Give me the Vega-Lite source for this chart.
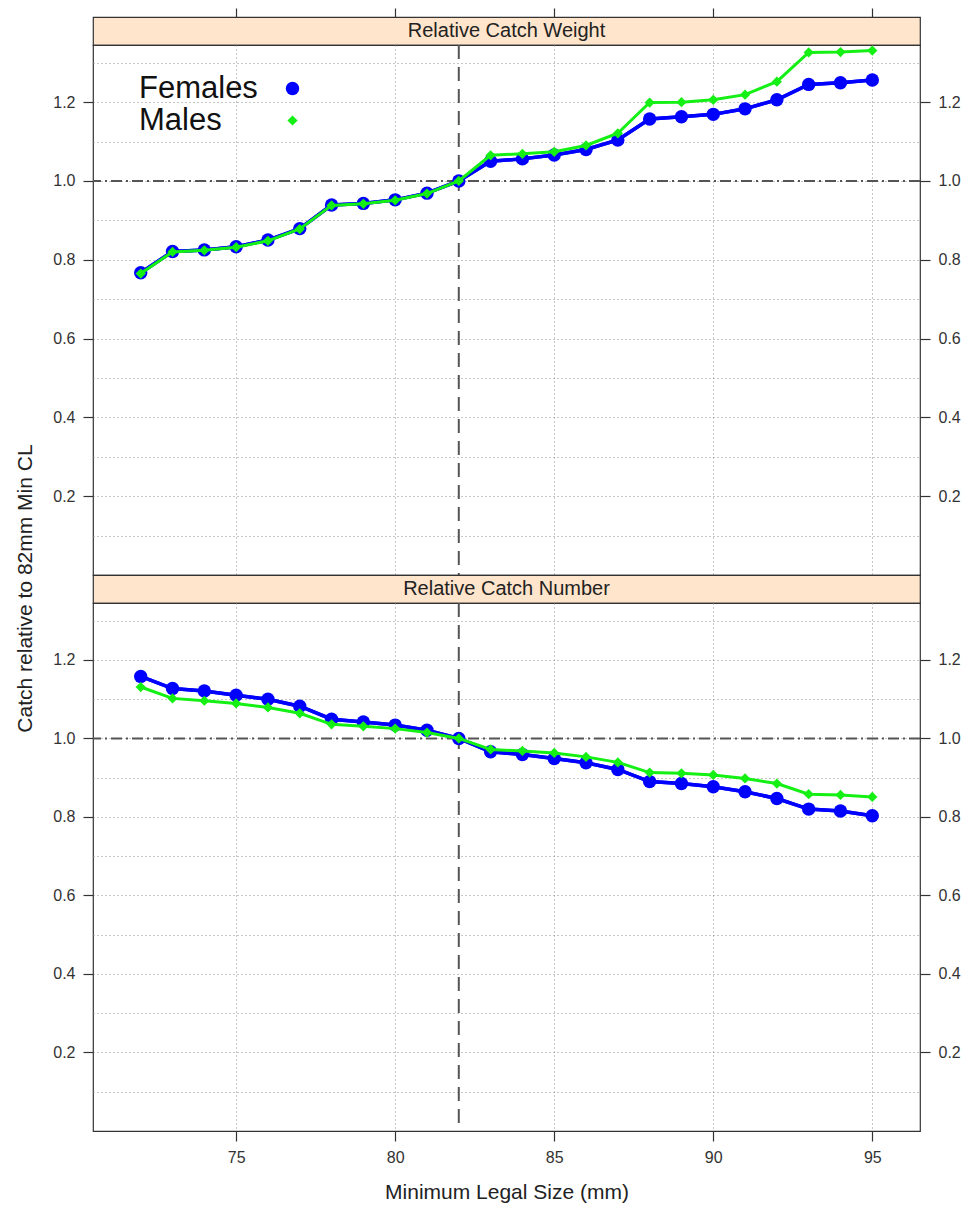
{
  "$schema": "https://vega.github.io/schema/vega-lite/v6.json",
  "background": "white",
  "padding": {"left": 14, "top": 6, "right": 5, "bottom": 5},
  "spacing": 0,
  "bounds": "flush",
  "config": {
    "font": "Liberation Sans",
    "axis": {
      "labelFont": "Liberation Sans", "labelFontSize": 16, "labelColor": "#333",
      "tickColor": "#333", "tickSize": 10, "tickWidth": 1.2, "labelPadding": 8, "domain": false,
      "titleFont": "Liberation Sans", "titleFontSize": 21, "titleFontWeight": "normal", "titleColor": "#222",
      "gridColor": "#8c8c8c", "gridDash": [1, 3], "gridWidth": 1
    }
  },
  "datasets": {
    "catch": [
      {"Panel": "Weight", "Sex": "Females", "Size": 72, "Value": 0.767},
      {"Panel": "Weight", "Sex": "Females", "Size": 73, "Value": 0.821},
      {"Panel": "Weight", "Sex": "Females", "Size": 74, "Value": 0.825},
      {"Panel": "Weight", "Sex": "Females", "Size": 75, "Value": 0.833},
      {"Panel": "Weight", "Sex": "Females", "Size": 76, "Value": 0.850},
      {"Panel": "Weight", "Sex": "Females", "Size": 77, "Value": 0.879},
      {"Panel": "Weight", "Sex": "Females", "Size": 78, "Value": 0.939},
      {"Panel": "Weight", "Sex": "Females", "Size": 79, "Value": 0.943},
      {"Panel": "Weight", "Sex": "Females", "Size": 80, "Value": 0.952},
      {"Panel": "Weight", "Sex": "Females", "Size": 81, "Value": 0.969},
      {"Panel": "Weight", "Sex": "Females", "Size": 82, "Value": 1.000},
      {"Panel": "Weight", "Sex": "Females", "Size": 83, "Value": 1.050},
      {"Panel": "Weight", "Sex": "Females", "Size": 84, "Value": 1.056},
      {"Panel": "Weight", "Sex": "Females", "Size": 85, "Value": 1.066},
      {"Panel": "Weight", "Sex": "Females", "Size": 86, "Value": 1.080},
      {"Panel": "Weight", "Sex": "Females", "Size": 87, "Value": 1.104},
      {"Panel": "Weight", "Sex": "Females", "Size": 88, "Value": 1.157},
      {"Panel": "Weight", "Sex": "Females", "Size": 89, "Value": 1.163},
      {"Panel": "Weight", "Sex": "Females", "Size": 90, "Value": 1.169},
      {"Panel": "Weight", "Sex": "Females", "Size": 91, "Value": 1.183},
      {"Panel": "Weight", "Sex": "Females", "Size": 92, "Value": 1.206},
      {"Panel": "Weight", "Sex": "Females", "Size": 93, "Value": 1.245},
      {"Panel": "Weight", "Sex": "Females", "Size": 94, "Value": 1.249},
      {"Panel": "Weight", "Sex": "Females", "Size": 95, "Value": 1.256},
      {"Panel": "Weight", "Sex": "Males", "Size": 72, "Value": 0.765},
      {"Panel": "Weight", "Sex": "Males", "Size": 73, "Value": 0.820},
      {"Panel": "Weight", "Sex": "Males", "Size": 74, "Value": 0.824},
      {"Panel": "Weight", "Sex": "Males", "Size": 75, "Value": 0.832},
      {"Panel": "Weight", "Sex": "Males", "Size": 76, "Value": 0.848},
      {"Panel": "Weight", "Sex": "Males", "Size": 77, "Value": 0.878},
      {"Panel": "Weight", "Sex": "Males", "Size": 78, "Value": 0.938},
      {"Panel": "Weight", "Sex": "Males", "Size": 79, "Value": 0.942},
      {"Panel": "Weight", "Sex": "Males", "Size": 80, "Value": 0.951},
      {"Panel": "Weight", "Sex": "Males", "Size": 81, "Value": 0.968},
      {"Panel": "Weight", "Sex": "Males", "Size": 82, "Value": 1.000},
      {"Panel": "Weight", "Sex": "Males", "Size": 83, "Value": 1.065},
      {"Panel": "Weight", "Sex": "Males", "Size": 84, "Value": 1.069},
      {"Panel": "Weight", "Sex": "Males", "Size": 85, "Value": 1.074},
      {"Panel": "Weight", "Sex": "Males", "Size": 86, "Value": 1.090},
      {"Panel": "Weight", "Sex": "Males", "Size": 87, "Value": 1.121},
      {"Panel": "Weight", "Sex": "Males", "Size": 88, "Value": 1.199},
      {"Panel": "Weight", "Sex": "Males", "Size": 89, "Value": 1.200},
      {"Panel": "Weight", "Sex": "Males", "Size": 90, "Value": 1.206},
      {"Panel": "Weight", "Sex": "Males", "Size": 91, "Value": 1.219},
      {"Panel": "Weight", "Sex": "Males", "Size": 92, "Value": 1.252},
      {"Panel": "Weight", "Sex": "Males", "Size": 93, "Value": 1.326},
      {"Panel": "Weight", "Sex": "Males", "Size": 94, "Value": 1.327},
      {"Panel": "Weight", "Sex": "Males", "Size": 95, "Value": 1.331},
      {"Panel": "Number", "Sex": "Females", "Size": 72, "Value": 1.158},
      {"Panel": "Number", "Sex": "Females", "Size": 73, "Value": 1.127},
      {"Panel": "Number", "Sex": "Females", "Size": 74, "Value": 1.121},
      {"Panel": "Number", "Sex": "Females", "Size": 75, "Value": 1.110},
      {"Panel": "Number", "Sex": "Females", "Size": 76, "Value": 1.100},
      {"Panel": "Number", "Sex": "Females", "Size": 77, "Value": 1.082},
      {"Panel": "Number", "Sex": "Females", "Size": 78, "Value": 1.049},
      {"Panel": "Number", "Sex": "Females", "Size": 79, "Value": 1.042},
      {"Panel": "Number", "Sex": "Females", "Size": 80, "Value": 1.034},
      {"Panel": "Number", "Sex": "Females", "Size": 81, "Value": 1.021},
      {"Panel": "Number", "Sex": "Females", "Size": 82, "Value": 1.000},
      {"Panel": "Number", "Sex": "Females", "Size": 83, "Value": 0.966},
      {"Panel": "Number", "Sex": "Females", "Size": 84, "Value": 0.959},
      {"Panel": "Number", "Sex": "Females", "Size": 85, "Value": 0.949},
      {"Panel": "Number", "Sex": "Females", "Size": 86, "Value": 0.938},
      {"Panel": "Number", "Sex": "Females", "Size": 87, "Value": 0.921},
      {"Panel": "Number", "Sex": "Females", "Size": 88, "Value": 0.890},
      {"Panel": "Number", "Sex": "Females", "Size": 89, "Value": 0.885},
      {"Panel": "Number", "Sex": "Females", "Size": 90, "Value": 0.877},
      {"Panel": "Number", "Sex": "Females", "Size": 91, "Value": 0.864},
      {"Panel": "Number", "Sex": "Females", "Size": 92, "Value": 0.847},
      {"Panel": "Number", "Sex": "Females", "Size": 93, "Value": 0.820},
      {"Panel": "Number", "Sex": "Females", "Size": 94, "Value": 0.815},
      {"Panel": "Number", "Sex": "Females", "Size": 95, "Value": 0.803},
      {"Panel": "Number", "Sex": "Males", "Size": 72, "Value": 1.131},
      {"Panel": "Number", "Sex": "Males", "Size": 73, "Value": 1.102},
      {"Panel": "Number", "Sex": "Males", "Size": 74, "Value": 1.096},
      {"Panel": "Number", "Sex": "Males", "Size": 75, "Value": 1.089},
      {"Panel": "Number", "Sex": "Males", "Size": 76, "Value": 1.079},
      {"Panel": "Number", "Sex": "Males", "Size": 77, "Value": 1.064},
      {"Panel": "Number", "Sex": "Males", "Size": 78, "Value": 1.036},
      {"Panel": "Number", "Sex": "Males", "Size": 79, "Value": 1.031},
      {"Panel": "Number", "Sex": "Males", "Size": 80, "Value": 1.025},
      {"Panel": "Number", "Sex": "Males", "Size": 81, "Value": 1.015},
      {"Panel": "Number", "Sex": "Males", "Size": 82, "Value": 1.000},
      {"Panel": "Number", "Sex": "Males", "Size": 83, "Value": 0.972},
      {"Panel": "Number", "Sex": "Males", "Size": 84, "Value": 0.968},
      {"Panel": "Number", "Sex": "Males", "Size": 85, "Value": 0.963},
      {"Panel": "Number", "Sex": "Males", "Size": 86, "Value": 0.953},
      {"Panel": "Number", "Sex": "Males", "Size": 87, "Value": 0.939},
      {"Panel": "Number", "Sex": "Males", "Size": 88, "Value": 0.913},
      {"Panel": "Number", "Sex": "Males", "Size": 89, "Value": 0.911},
      {"Panel": "Number", "Sex": "Males", "Size": 90, "Value": 0.907},
      {"Panel": "Number", "Sex": "Males", "Size": 91, "Value": 0.898},
      {"Panel": "Number", "Sex": "Males", "Size": 92, "Value": 0.885},
      {"Panel": "Number", "Sex": "Males", "Size": 93, "Value": 0.858},
      {"Panel": "Number", "Sex": "Males", "Size": 94, "Value": 0.856},
      {"Panel": "Number", "Sex": "Males", "Size": 95, "Value": 0.851}
    ]
  },
  "resolve": {
    "scale": {"color": "independent", "shape": "independent", "size": "independent"},
    "legend": {"color": "independent", "shape": "independent", "size": "independent"}
  },
  "vconcat": [
    {
      "width": 827, "height": 28,
      "view": {"fill": "#FFE5CC", "stroke": "#333", "strokeWidth": 1.2},
      "layer": [
        {
          "data": {"name": "catch"},
          "mark": {"type": "point", "opacity": 0},
          "encoding": {
            "x": {"field": "Size", "type": "quantitative",
              "scale": {"domain": [70.5, 96.5], "nice": false, "zero": false},
              "axis": {"orient": "top", "values": [75, 80, 85, 90, 95], "labels": false, "ticks": true, "grid": false, "title": null, "tickSize": 9}}
          }
        },
        {
          "data": {"values": [{"strip": "Relative Catch Weight"}]},
          "mark": {"type": "text", "fontSize": 20, "font": "Liberation Sans", "color": "#222"},
          "encoding": {"text": {"field": "strip"}}
        }
      ]
    },
    {
      "width": 827, "height": 530,
      "view": {"stroke": "#333", "strokeWidth": 1.2},
      "resolve": {"axis": {"y": "independent"}},
      "layer": [
        {
          "data": {"name": "catch"},
          "transform": [{"filter": "datum.Panel == 'Weight' && datum.Sex == 'Females'"}],
          "mark": {"type": "line", "strokeWidth": 3.5, "color": "#0000FF"},
          "encoding": {
            "x": {"field": "Size", "type": "quantitative", "scale": {"domain": [70.5, 96.5], "nice": false, "zero": false},
              "axis": {"orient": "bottom", "values": [75, 80, 85, 90, 95], "grid": true, "labels": false, "ticks": false, "title": null}},
            "y": {"field": "Value", "type": "quantitative", "scale": {"domain": [0, 1.345], "nice": false, "zero": false},
              "axis": {"orient": "left", "values": [0.1, 0.2, 0.3, 0.4, 0.5, 0.6, 0.7, 0.8, 0.9, 1.0, 1.1, 1.2, 1.3], "grid": true,
                "labelExpr": "round(datum.value*10) % 2 == 0 ? format(datum.value, '.1f') : ''",
                "tickOpacity": {"condition": {"test": "round(datum.value*10) % 2 == 1", "value": 0}, "value": 1},
                "title": "Catch relative to 82mm Min CL", "titleY": 543, "titlePadding": 17}}
          }
        },
        {
          "data": {"values": [{"ref": "82 mm"}]},
          "mark": {"type": "rule", "color": "#555", "strokeWidth": 2, "strokeDash": [14, 8]},
          "encoding": {"x": {"datum": 82, "type": "quantitative", "scale": {"domain": [70.5, 96.5], "nice": false, "zero": false}}}
        },
        {
          "data": {"values": [{"ref": "1.0"}]},
          "mark": {"type": "rule", "color": "#555", "strokeWidth": 2, "strokeDash": [11, 4, 2, 4]},
          "encoding": {"y": {"datum": 1.0, "type": "quantitative", "scale": {"domain": [0, 1.345], "nice": false, "zero": false}, "axis": null}}
        },
        {
          "data": {"name": "catch"},
          "transform": [{"filter": "datum.Panel == 'Weight' && datum.Sex == 'Females'"}],
          "mark": {"type": "line", "strokeWidth": 3.5, "color": "#0000FF"},
          "encoding": {
            "x": {"field": "Size", "type": "quantitative", "scale": {"domain": [70.5, 96.5], "nice": false, "zero": false}},
            "y": {"field": "Value", "type": "quantitative", "scale": {"domain": [0, 1.345], "nice": false, "zero": false}, "axis": null}
          }
        },
        {
          "data": {"name": "catch"},
          "transform": [{"filter": "datum.Panel == 'Weight' && datum.Sex == 'Females'"}],
          "mark": {"type": "point", "filled": true, "opacity": 1},
          "encoding": {
            "x": {"field": "Size", "type": "quantitative", "scale": {"domain": [70.5, 96.5], "nice": false, "zero": false}},
            "y": {"field": "Value", "type": "quantitative", "scale": {"domain": [0, 1.345], "nice": false, "zero": false},
              "axis": {"orient": "right", "values": [0.2, 0.4, 0.6, 0.8, 1.0, 1.2], "grid": false, "format": ".1f", "title": null}},
            "color": {"field": "Sex", "type": "nominal", "scale": {"domain": ["Females", "Males"], "range": ["#0000FF", "#14F014"]},
              "legend": {"title": null, "orient": "none", "legendX": 39, "legendY": 28, "labelFontSize": 31, "labelFont": "Liberation Sans", "labelColor": "#111", "symbolOffset": 145, "labelOffset": -169, "rowPadding": 0, "padding": 0, "labelLimit": 0, "symbolStrokeWidth": 0}},
            "shape": {"field": "Sex", "type": "nominal", "scale": {"domain": ["Females", "Males"], "range": ["circle", "diamond"]},
              "legend": {"title": null, "orient": "none", "legendX": 39, "legendY": 28, "labelFontSize": 31, "labelFont": "Liberation Sans", "labelColor": "#111", "symbolOffset": 145, "labelOffset": -169, "rowPadding": 0, "padding": 0, "labelLimit": 0, "symbolStrokeWidth": 0}},
            "size": {"field": "Sex", "type": "nominal", "scale": {"domain": ["Females", "Males"], "range": [180, 105]},
              "legend": {"title": null, "orient": "none", "legendX": 39, "legendY": 28, "labelFontSize": 31, "labelFont": "Liberation Sans", "labelColor": "#111", "symbolOffset": 145, "labelOffset": -169, "rowPadding": 0, "padding": 0, "labelLimit": 0, "symbolStrokeWidth": 0}}
          }
        },
        {
          "data": {"name": "catch"},
          "transform": [{"filter": "datum.Panel == 'Weight' && datum.Sex == 'Males'"}],
          "mark": {"type": "line", "strokeWidth": 3, "color": "#14F014"},
          "encoding": {
            "x": {"field": "Size", "type": "quantitative", "scale": {"domain": [70.5, 96.5], "nice": false, "zero": false}},
            "y": {"field": "Value", "type": "quantitative", "scale": {"domain": [0, 1.345], "nice": false, "zero": false}, "axis": null}
          }
        },
        {
          "data": {"name": "catch"},
          "transform": [{"filter": "datum.Panel == 'Weight' && datum.Sex == 'Males'"}],
          "mark": {"type": "point", "filled": true, "opacity": 1},
          "encoding": {
            "x": {"field": "Size", "type": "quantitative", "scale": {"domain": [70.5, 96.5], "nice": false, "zero": false}},
            "y": {"field": "Value", "type": "quantitative", "scale": {"domain": [0, 1.345], "nice": false, "zero": false}, "axis": null},
            "color": {"field": "Sex", "type": "nominal", "scale": {"domain": ["Females", "Males"], "range": ["#0000FF", "#14F014"]}},
            "shape": {"field": "Sex", "type": "nominal", "scale": {"domain": ["Females", "Males"], "range": ["circle", "diamond"]}},
            "size": {"field": "Sex", "type": "nominal", "scale": {"domain": ["Females", "Males"], "range": [180, 105]}}
          }
        }
      ]
    },
    {
      "width": 827, "height": 28,
      "view": {"fill": "#FFE5CC", "stroke": "#333", "strokeWidth": 1.2},
      "data": {"values": [{"strip": "Relative Catch Number"}]},
      "mark": {"type": "text", "fontSize": 20, "font": "Liberation Sans", "color": "#222"},
      "encoding": {"text": {"field": "strip"}}
    },
    {
      "width": 827, "height": 528,
      "view": {"stroke": "#333", "strokeWidth": 1.2},
      "resolve": {"axis": {"y": "independent"}},
      "layer": [
        {
          "data": {"name": "catch"},
          "transform": [{"filter": "datum.Panel == 'Number' && datum.Sex == 'Females'"}],
          "mark": {"type": "line", "strokeWidth": 3.5, "color": "#0000FF"},
          "encoding": {
            "x": {"field": "Size", "type": "quantitative", "scale": {"domain": [70.5, 96.5], "nice": false, "zero": false},
              "axis": {"orient": "bottom", "values": [75, 80, 85, 90, 95], "grid": true, "labels": true, "ticks": true, "format": "d", "title": "Minimum Legal Size (mm)", "titlePadding": 16}},
            "y": {"field": "Value", "type": "quantitative", "scale": {"domain": [0, 1.345], "nice": false, "zero": false},
              "axis": {"orient": "left", "values": [0.1, 0.2, 0.3, 0.4, 0.5, 0.6, 0.7, 0.8, 0.9, 1.0, 1.1, 1.2, 1.3], "grid": true,
                "labelExpr": "round(datum.value*10) % 2 == 0 ? format(datum.value, '.1f') : ''",
                "tickOpacity": {"condition": {"test": "round(datum.value*10) % 2 == 1", "value": 0}, "value": 1},
                "title": null}}
          }
        },
        {
          "data": {"values": [{"ref": "82 mm"}]},
          "mark": {"type": "rule", "color": "#555", "strokeWidth": 2, "strokeDash": [14, 8]},
          "encoding": {"x": {"datum": 82, "type": "quantitative", "scale": {"domain": [70.5, 96.5], "nice": false, "zero": false}}}
        },
        {
          "data": {"values": [{"ref": "1.0"}]},
          "mark": {"type": "rule", "color": "#555", "strokeWidth": 2, "strokeDash": [11, 4, 2, 4]},
          "encoding": {"y": {"datum": 1.0, "type": "quantitative", "scale": {"domain": [0, 1.345], "nice": false, "zero": false}, "axis": null}}
        },
        {
          "data": {"name": "catch"},
          "transform": [{"filter": "datum.Panel == 'Number' && datum.Sex == 'Females'"}],
          "mark": {"type": "line", "strokeWidth": 3.5, "color": "#0000FF"},
          "encoding": {
            "x": {"field": "Size", "type": "quantitative", "scale": {"domain": [70.5, 96.5], "nice": false, "zero": false}},
            "y": {"field": "Value", "type": "quantitative", "scale": {"domain": [0, 1.345], "nice": false, "zero": false}, "axis": null}
          }
        },
        {
          "data": {"name": "catch"},
          "transform": [{"filter": "datum.Panel == 'Number' && datum.Sex == 'Females'"}],
          "mark": {"type": "point", "filled": true, "opacity": 1},
          "encoding": {
            "x": {"field": "Size", "type": "quantitative", "scale": {"domain": [70.5, 96.5], "nice": false, "zero": false}},
            "y": {"field": "Value", "type": "quantitative", "scale": {"domain": [0, 1.345], "nice": false, "zero": false},
              "axis": {"orient": "right", "values": [0.2, 0.4, 0.6, 0.8, 1.0, 1.2], "grid": false, "format": ".1f", "title": null}},
            "color": {"field": "Sex", "type": "nominal", "scale": {"domain": ["Females", "Males"], "range": ["#0000FF", "#14F014"]}, "legend": null},
            "shape": {"field": "Sex", "type": "nominal", "scale": {"domain": ["Females", "Males"], "range": ["circle", "diamond"]}, "legend": null},
            "size": {"field": "Sex", "type": "nominal", "scale": {"domain": ["Females", "Males"], "range": [180, 105]}, "legend": null}
          }
        },
        {
          "data": {"name": "catch"},
          "transform": [{"filter": "datum.Panel == 'Number' && datum.Sex == 'Males'"}],
          "mark": {"type": "line", "strokeWidth": 3, "color": "#14F014"},
          "encoding": {
            "x": {"field": "Size", "type": "quantitative", "scale": {"domain": [70.5, 96.5], "nice": false, "zero": false}},
            "y": {"field": "Value", "type": "quantitative", "scale": {"domain": [0, 1.345], "nice": false, "zero": false}, "axis": null}
          }
        },
        {
          "data": {"name": "catch"},
          "transform": [{"filter": "datum.Panel == 'Number' && datum.Sex == 'Males'"}],
          "mark": {"type": "point", "filled": true, "opacity": 1},
          "encoding": {
            "x": {"field": "Size", "type": "quantitative", "scale": {"domain": [70.5, 96.5], "nice": false, "zero": false}},
            "y": {"field": "Value", "type": "quantitative", "scale": {"domain": [0, 1.345], "nice": false, "zero": false}, "axis": null},
            "color": {"field": "Sex", "type": "nominal", "scale": {"domain": ["Females", "Males"], "range": ["#0000FF", "#14F014"]}, "legend": null},
            "shape": {"field": "Sex", "type": "nominal", "scale": {"domain": ["Females", "Males"], "range": ["circle", "diamond"]}, "legend": null},
            "size": {"field": "Sex", "type": "nominal", "scale": {"domain": ["Females", "Males"], "range": [180, 105]}, "legend": null}
          }
        }
      ]
    }
  ]
}
